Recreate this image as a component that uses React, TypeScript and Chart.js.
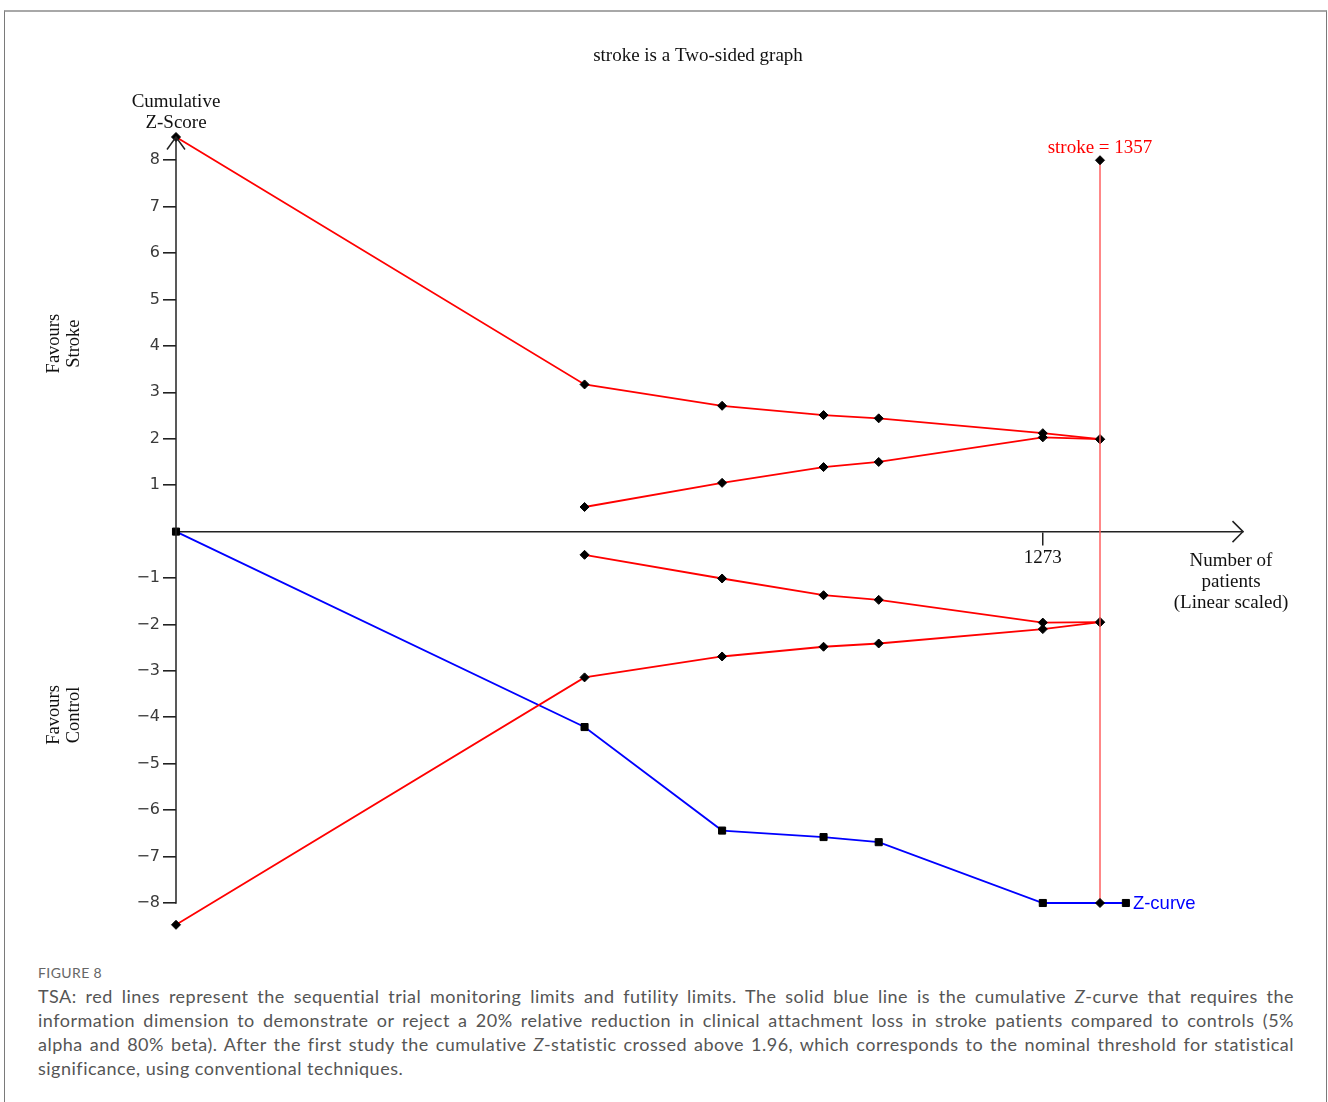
import React, { useEffect, useRef } from 'react';
import { Chart, registerables } from 'chart.js';

Chart.register(...registerables);

// ---- data ----
const patients = [0, 600, 802, 951, 1032, 1273, 1357];
const innerPatients = [600, 802, 951, 1032, 1273, 1357];
const upperBoundary = [8.5, 3.17, 2.71, 2.51, 2.44, 2.12, 1.99];
const upperFutility = [0.53, 1.05, 1.39, 1.5, 2.03, 1.99];
const lowerFutility = [-0.5, -1.01, -1.37, -1.47, -1.96, -1.95];
const lowerBoundary = [-8.47, -3.14, -2.69, -2.48, -2.41, -2.1, -1.95];
const zPatients = [0, 600, 802, 951, 1032, 1273, 1395];
const zCurve = [0, -4.21, -6.44, -6.58, -6.69, -8.0, -8.0];
const requiredInfoSize = 1357;
const risLine = [8, -8];
const yTicks = [-8, -7, -6, -5, -4, -3, -2, -1, 1, 2, 3, 4, 5, 6, 7, 8];
const xTicks = [1273];
const xMin = 0;
const xMax = 1567;
const yMin = -8.6;
const yMax = 8.5;
const yAxisBottom = -8;

const SERIF = '"Liberation Serif", "Times New Roman", serif';
const RED = '#ff0000';
const BLUE = '#0000ff';

const annotations = {
  id: 'tsaAnnotations',
  afterDraw(chart: any) {
    const { ctx, scales } = chart;
    const xs = scales.x;
    const ys = scales.y;
    const x0 = xs.getPixelForValue(0);
    const y0 = ys.getPixelForValue(0);
    ctx.save();

    // y axis line (from -8 up to the arrow) and arrow heads
    ctx.strokeStyle = '#222';
    ctx.lineWidth = 1.5;
    const topY = ys.top;
    ctx.beginPath();
    ctx.moveTo(x0, ys.getPixelForValue(yAxisBottom) + 0.75);
    ctx.lineTo(x0, topY);
    ctx.stroke();
    ctx.beginPath();
    ctx.moveTo(x0 - 9, topY + 12.5);
    ctx.lineTo(x0, topY);
    ctx.lineTo(x0 + 9, topY + 12.5);
    ctx.stroke();
    const rightX = xs.right;
    ctx.beginPath();
    ctx.moveTo(rightX - 10.5, y0 - 10.5);
    ctx.lineTo(rightX, y0);
    ctx.lineTo(rightX - 10.5, y0 + 10.5);
    ctx.stroke();

    // title
    ctx.fillStyle = '#111';
    ctx.font = `19px ${SERIF}`;
    ctx.textAlign = 'center';
    ctx.textBaseline = 'alphabetic';
    ctx.fillText('stroke is a Two-sided graph', 698, 61);

    // y axis title
    ctx.fillText('Cumulative', x0, 107);
    ctx.fillText('Z-Score', x0, 128);

    // x axis title
    const nx = rightX - 12;
    ctx.fillText('Number of', nx, y0 + 34);
    ctx.fillText('patients', nx, y0 + 55);
    ctx.fillText('(Linear scaled)', nx, y0 + 76);

    // favours labels (rotated)
    const drawRot = (lines: string[], cy: number) => {
      ctx.save();
      ctx.translate(64, cy);
      ctx.rotate(-Math.PI / 2);
      ctx.textAlign = 'center';
      ctx.textBaseline = 'middle';
      ctx.font = `18.5px ${SERIF}`;
      ctx.fillText(lines[0], 0, -10);
      ctx.fillText(lines[1], 0, 10);
      ctx.restore();
    };
    drawRot(['Favours', 'Stroke'], ys.getPixelForValue(4.05));
    drawRot(['Favours', 'Control'], ys.getPixelForValue(-3.95));

    // required information size label
    ctx.fillStyle = RED;
    ctx.textAlign = 'center';
    ctx.textBaseline = 'alphabetic';
    ctx.font = `19px ${SERIF}`;
    ctx.fillText('stroke = ' + requiredInfoSize, xs.getPixelForValue(requiredInfoSize), ys.getPixelForValue(risLine[0]) - 7);

    // Z-curve label
    ctx.fillStyle = BLUE;
    ctx.textAlign = 'left';
    ctx.textBaseline = 'middle';
    ctx.font = '18.5px "Liberation Sans", Arial, sans-serif';
    const lastIdx = zPatients.length - 1;
    ctx.fillText('Z-curve', xs.getPixelForValue(zPatients[lastIdx]) + 7, ys.getPixelForValue(zCurve[lastIdx]) + 1);

    ctx.restore();
  },
};

const toPts = (xsArr: number[], ysArr: number[]) => xsArr.map((x, i) => ({ x, y: ysArr[i] }));

const boundaryStyle = {
  showLine: true,
  borderColor: RED,
  borderWidth: 1.8,
  pointStyle: 'rectRot',
  pointRadius: 4.5,
  pointBackgroundColor: '#000',
  pointBorderColor: '#000',
  pointBorderWidth: 1,
  clip: false as any,
  order: 1,
};

export default function App() {
  const canvasRef = useRef<HTMLCanvasElement | null>(null);

  useEffect(() => {
    if (!canvasRef.current) return;
    const chart = new Chart(canvasRef.current, {
      type: 'scatter',
      data: {
        datasets: [
          {
            ...boundaryStyle,
            label: 'Required information size',
            data: toPts([requiredInfoSize, requiredInfoSize], risLine),
            borderColor: 'rgba(255, 90, 90, 0.9)',
            borderWidth: 1.6,
            order: 0,
          },
          { ...boundaryStyle, label: 'Upper monitoring boundary', data: toPts(patients, upperBoundary) },
          { ...boundaryStyle, label: 'Upper futility boundary', data: toPts(innerPatients, upperFutility) },
          { ...boundaryStyle, label: 'Lower futility boundary', data: toPts(innerPatients, lowerFutility) },
          { ...boundaryStyle, label: 'Lower monitoring boundary', data: toPts(patients, lowerBoundary) },
          {
            label: 'Z-curve',
            data: toPts(zPatients, zCurve),
            showLine: true,
            borderColor: BLUE,
            borderWidth: 1.8,
            pointStyle: 'rect',
            pointRadius: 5,
            pointBackgroundColor: '#000',
            pointBorderColor: '#000',
            pointBorderWidth: 1,
            clip: false as any,
            order: 2,
          } as any,
        ] as any,
      },
      options: {
        animation: false,
        responsive: false,
        maintainAspectRatio: false,
        devicePixelRatio: 1,
        layout: { padding: { left: 116, top: 137, right: 85, bottom: 29.15 } },
        plugins: {
          legend: { display: false },
          tooltip: { enabled: false },
          title: { display: false },
        },
        scales: {
          x: {
            type: 'linear',
            position: { y: 0 } as any,
            min: xMin,
            max: xMax,
            afterBuildTicks: (axis: any) => {
              axis.ticks = xTicks.map((v) => ({ value: v }));
            },
            ticks: {
              callback: (v: any) => String(v),
              color: '#111',
              font: { family: SERIF, size: 19 },
              padding: 2,
              maxRotation: 0,
              autoSkip: false,
            },
            grid: { drawOnChartArea: false, drawTicks: true, tickLength: 13, color: '#222', lineWidth: 1.5 },
            border: { display: true, color: '#222', width: 1.5 },
          },
          y: {
            type: 'linear',
            position: 'left',
            min: yMin,
            max: yMax,
            afterBuildTicks: (axis: any) => {
              axis.ticks = yTicks.map((v) => ({ value: v }));
            },
            afterFit: (scale: any) => {
              scale.width = 60;
            },
            ticks: {
              callback: (v: any) => (v < 0 ? '\u2212' + Math.abs(v) : String(v)),
              color: '#3a3a3a',
              font: { family: '"DejaVu Sans", Verdana, sans-serif', size: 16 },
              padding: 3,
              autoSkip: false,
            },
            grid: { drawOnChartArea: false, drawTicks: true, tickLength: 13, color: '#222', lineWidth: 1.6 },
            border: { display: false },
          },
        },
      } as any,
      plugins: [annotations],
    });
    return () => chart.destroy();
  }, []);

  const captionLine: React.CSSProperties = {
    textAlign: 'justify',
    textAlignLast: 'justify' as any,
    whiteSpace: 'nowrap',
  };

  return (
    <div>
      <div
        style={{
          position: 'absolute',
          left: 4,
          top: 10,
          width: 1323,
          height: 1100,
          boxSizing: 'border-box',
          borderTop: '2px solid #a8a8a8',
          borderLeft: '1px solid #7a7a7a',
          borderRight: '1px solid #7a7a7a',
          background: '#fff',
        }}
      />
      <canvas
        ref={canvasRef}
        width={1328}
        height={960}
        style={{ position: 'absolute', left: 0, top: 0, width: 1328, height: 960 }}
      />
      <div
        style={{
          position: 'absolute',
          left: 38,
          top: 962,
          width: 1256,
          fontFamily: 'Lato, "Open Sans", sans-serif',
          color: '#555',
        }}
      >
        <div style={{ fontSize: 14, lineHeight: '22px', color: '#666', letterSpacing: 0.4 }}>FIGURE 8</div>
        <div style={{ fontSize: 18, lineHeight: '24px', letterSpacing: 0.5 }}>
          <div style={captionLine}>
            TSA: red lines represent the sequential trial monitoring limits and futility limits. The solid blue line is the cumulative <i>Z</i>-curve that requires the
          </div>
          <div style={captionLine}>
            information dimension to demonstrate or reject a 20% relative reduction in clinical attachment loss in stroke patients compared to controls (5%
          </div>
          <div style={captionLine}>
            alpha and 80% beta). After the first study the cumulative <i>Z</i>-statistic crossed above 1.96, which corresponds to the nominal threshold for statistical
          </div>
          <div style={{ whiteSpace: 'nowrap' }}>significance, using conventional techniques.</div>
        </div>
      </div>
    </div>
  );
}
